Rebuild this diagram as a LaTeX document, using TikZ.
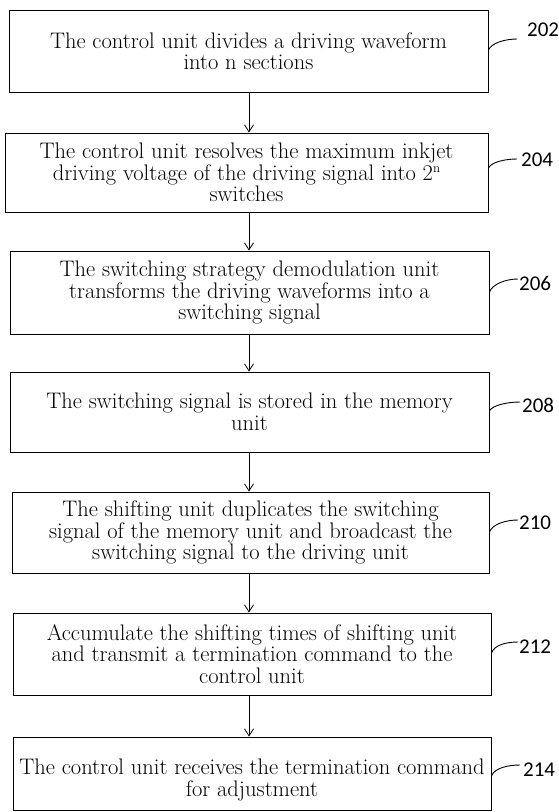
\documentclass[tikz,border=0pt]{standalone}
\usepackage{fontspec}
\newfontfamily\labelfont{Carlito}
\usetikzlibrary{arrows.meta,calc}
\tikzset{
  stepbox/.style={draw=black, line width=0.9pt, align=center, inner sep=0pt,
    font=\fontsize{22.5}{21.5}\selectfont},
  steptext/.style={align=center, inner sep=0pt, font=\fontsize{22.5}{21.5}\selectfont},
  flow/.style={draw=black, line width=0.8pt, -{Straight Barb[length=7pt,width=9pt,line width=0.8pt]}},
  lead/.style={draw=black, line width=0.9pt},
  reflabel/.style={anchor=west, inner sep=0pt, font=\labelfont\fontsize{21}{21}\selectfont}
}
\begin{document}
\begin{tikzpicture}[x=1pt,y=-1pt]
\useasboundingbox (0,0) rectangle (559,812);
\coordinate (ax) at (249,0);
\node[stepbox, minimum width=479pt, minimum height=82pt] (b1) at (248.5,51)
  {The control unit divides a driving waveform\\into n sections};
\node[stepbox, minimum width=483pt, minimum height=79pt] (b2) at (246.5,172.5)
  {The control unit resolves the maximum inkjet\\driving voltage of the driving signal into 2\raisebox{0.75ex}{\fontsize{13}{13}\selectfont n}\\switches};
\node[stepbox, minimum width=479pt, minimum height=83pt] (b3) at (249.5,292.5)
  {The switching strategy demodulation unit\\transforms the driving waveforms into a\\switching signal};
\node[stepbox, minimum width=479pt, minimum height=80pt] (b4) at (249.5,412)
  {The switching signal is stored in the memory\\unit};
\node[stepbox, minimum width=477pt, minimum height=81pt] (b5) at (250.5,532.5)
  {The shifting unit duplicates the switching\\signal of the memory unit and broadcast the\\switching signal to the driving unit};
\node[stepbox, minimum width=478pt, minimum height=82pt] (b6) at (252,654)
  {Accumulate the shifting times of shifting unit\\and transmit a termination command to the\\control unit};
\node[stepbox, minimum width=478pt, minimum height=73pt] (b7) at (252,773.5) {};
\node[steptext] (t7) at (252,780)
  {The control unit receives the termination command\\for adjustment};

\foreach \a/\b in {b1/b2,b2/b3,b3/b4,b4/b5,b5/b6,b6/b7}{
  \draw[flow] (\a.south -| ax) -- (\b.north -| ax);
}

\node[reflabel] (l202) at (527,30) {202};
\node[reflabel] (l204) at (521,160) {204};
\node[reflabel] (l206) at (519,283) {206};
\node[reflabel] (l208) at (522,405) {208};
\node[reflabel] (l210) at (519,523) {210};
\node[reflabel] (l212) at (519,647) {212};
\node[reflabel] (l214) at (523,770) {214};

\coordinate (e202) at (517,39);
\coordinate (e204) at (517,159);
\coordinate (e206) at (518,279);
\coordinate (e208) at (520,402);
\coordinate (e210) at (518,520);
\coordinate (e212) at (518,642);
\coordinate (e214) at (520,765);

\draw[lead] (b1.east |- 0,50) .. controls +(3,-7) and +(-12,0) .. (e202);
\draw[lead] (b2.east |- 0,168) .. controls +(3,-6) and +(-12,0) .. (e204);
\draw[lead] (b3.east |- 0,292) .. controls +(3,-8) and +(-12,0) .. (e206);
\draw[lead] (b4.east |- 0,411) .. controls +(3,-6) and +(-12,0) .. (e208);
\draw[lead] (b5.east |- 0,532) .. controls +(3,-8) and +(-12,0) .. (e210);
\draw[lead] (b6.east |- 0,653) .. controls +(3,-8) and +(-12,0) .. (e212);
\draw[lead] (b7.east |- 0,776) .. controls +(3,-8) and +(-12,0) .. (e214);
\end{tikzpicture}
\end{document}
